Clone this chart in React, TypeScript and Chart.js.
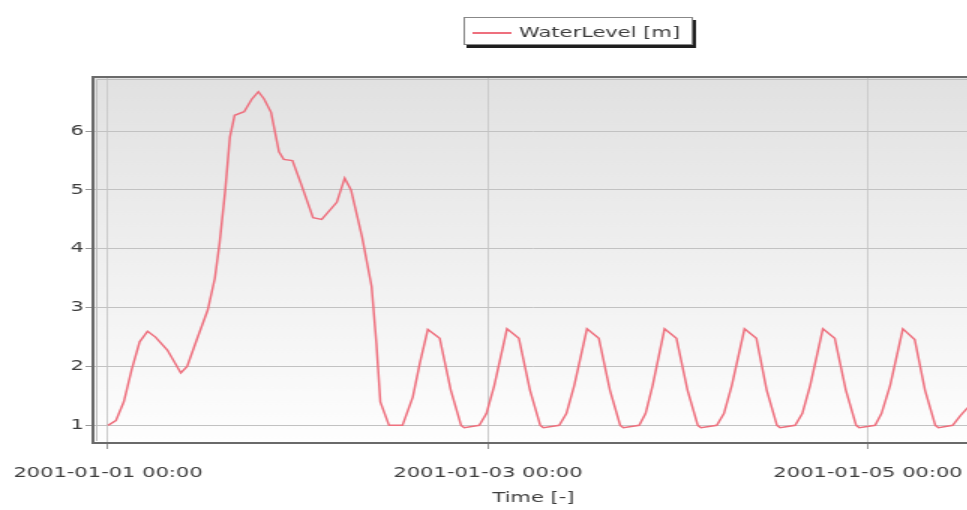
import React, { useEffect, useRef } from "react";
import { Chart, registerables } from "chart.js";

Chart.register(...registerables);

// Time in hours since 2001-01-01 00:00
const hours = [
  0, 1, 2, 3, 4, 5, 6, 7.5, 9.2, 10, 11.2, 12.6, 13.5, 14.1, 14.8, 15.4, 16, 17.2, 18.2, 19, 19.7, 20.6,
  21.6, 22.2, 23.3, 24.4, 25.9, 27, 28.9, 29.9, 30.7, 32.1, 33.3, 33.9, 34.4, 35.5, 37.2, 38.5, 39.4,
  40.4, 41.9, 43.3, 44.6, 45.0, 46.9, 47.8, 48.8,
  50.4, 51.9, 53.3, 54.6, 55.0, 57.0, 57.9, 58.9,
  60.5, 62.0, 63.4, 64.7, 65.1, 67.1, 67.9, 68.8,
  70.3, 71.8, 73.2, 74.5, 74.9, 76.9, 77.8, 78.8,
  80.4, 81.9, 83.2, 84.5, 84.9, 86.8, 87.7, 88.7,
  90.3, 91.8, 93.2, 94.5, 94.9, 96.9, 97.7, 98.8,
  100.4, 101.9, 103.2, 104.5, 104.9, 106.7, 107.7, 108.6,
];

// WaterLevel [m]
const levels = [
  1.0, 1.08, 1.4, 1.95, 2.42, 2.6, 2.5, 2.28, 1.89, 2.0, 2.45, 2.96, 3.5, 4.1, 4.98, 5.9, 6.27, 6.33, 6.55, 6.67, 6.55, 6.32,
  5.65, 5.52, 5.5, 5.1, 4.53, 4.5, 4.79, 5.2, 5.0, 4.2, 3.36, 2.4, 1.4, 1.0, 1.0, 1.48, 2.06,
  2.63, 2.48, 1.6, 1.0, 0.96, 1.0, 1.2, 1.68,
  2.64, 2.48, 1.6, 1.0, 0.96, 1.0, 1.2, 1.68,
  2.64, 2.48, 1.6, 1.0, 0.96, 1.0, 1.2, 1.68,
  2.64, 2.48, 1.6, 1.0, 0.96, 1.0, 1.2, 1.68,
  2.64, 2.48, 1.6, 1.0, 0.96, 1.0, 1.2, 1.68,
  2.64, 2.48, 1.6, 1.0, 0.96, 1.0, 1.2, 1.68,
  2.64, 2.46, 1.6, 1.0, 0.96, 1.0, 1.17, 1.3,
];

const xTickHours = [0, 48, 96];
const xTickLabels = ["2001-01-01 00:00", "2001-01-03 00:00", "2001-01-05 00:00"];
const yTickValues = [1, 2, 3, 4, 5, 6];
const seriesLabel = "WaterLevel [m]";
const xTitle = "Time [-]";

const SX = 1.5; // horizontal stretch of the whole picture
const W = 650;
const H = 510;
const LINE_COLOR = "rgb(238,112,126)";
const TEXT_COLOR = "#3c3c3c";
const FONT = '"DejaVu Sans", sans-serif';

const bgPlugin = {
  id: "bgPlugin",
  beforeDraw(chart: any) {
    const { ctx, chartArea: a } = chart;
    const g = ctx.createLinearGradient(0, a.top, 0, a.bottom);
    g.addColorStop(0, "#e1e1e1");
    g.addColorStop(1, "#fefefe");
    ctx.save();
    ctx.fillStyle = g;
    ctx.fillRect(a.left, a.top, a.right - a.left, a.bottom - a.top);
    ctx.restore();
  },
  afterDatasetsDraw(chart: any) {
    const { ctx, chartArea: a } = chart;
    ctx.save();
    ctx.strokeStyle = "#bdbdbd";
    ctx.lineWidth = 1;
    ctx.beginPath();
    ctx.moveTo(a.left + 2.5, a.bottom - 2);
    ctx.lineTo(a.left + 2.5, a.top + 2.5);
    ctx.lineTo(a.right + 5, a.top + 2.5);
    ctx.stroke();
    ctx.strokeStyle = "#6a6a6a";
    ctx.lineWidth = 2;
    ctx.strokeRect(a.left, a.top, a.right - a.left + 10, a.bottom - a.top);
    ctx.restore();
  },
  afterDraw(chart: any) {
    const { ctx } = chart;
    const bx = 309, by = 17, bw = 153, bh = 28;
    ctx.save();
    ctx.fillStyle = "#1e1e1e";
    ctx.fillRect(bx + 2, by + 3, bw, bh);
    ctx.fillStyle = "#ffffff";
    ctx.fillRect(bx, by, bw, bh);
    ctx.strokeStyle = "#888";
    ctx.lineWidth = 1;
    ctx.strokeRect(bx + 0.5, by + 0.5, bw - 1, bh - 1);
    const ly = 33;
    ctx.strokeStyle = LINE_COLOR;
    ctx.lineWidth = 2;
    ctx.beginPath();
    ctx.moveTo(315, ly);
    ctx.lineTo(341, ly);
    ctx.stroke();
    ctx.fillStyle = TEXT_COLOR;
    ctx.font = `14px ${FONT}`;
    ctx.textBaseline = "middle";
    ctx.textAlign = "left";
    ctx.fillText(seriesLabel, 346, ly);
    ctx.restore();
  },
};

export default function App() {
  const ref = useRef<HTMLCanvasElement>(null);

  useEffect(() => {
    const pxPerHour = 7.927 / SX;
    const left = 62;
    const xMin = -15 / 7.927;
    const xMax = xMin + (W - left) / pxPerHour;

    const chart = new Chart(ref.current as HTMLCanvasElement, {
      type: "line",
      data: {
        datasets: [
          {
            label: seriesLabel,
            data: hours.map((h, i) => ({ x: h, y: levels[i] })),
            borderColor: LINE_COLOR,
            borderWidth: 1.5,
            pointRadius: 0,
            tension: 0,
            fill: false,
          },
        ],
      },
      options: {
        animation: false,
        responsive: true,
        maintainAspectRatio: false,
        devicePixelRatio: 1,
        layout: { padding: { left: 0, top: 77, right: 0, bottom: 0 } },
        plugins: { legend: { display: false }, tooltip: { enabled: false } },
        scales: {
          x: {
            type: "linear",
            min: xMin,
            max: xMax,
            afterFit: (s: any) => {
              s.height = H - 443;
              s.paddingLeft = 0;
              s.paddingRight = 0;
            },
            afterBuildTicks: (s: any) => {
              s.ticks = xTickHours.map((v) => ({ value: v }));
            },
            ticks: {
              autoSkip: false,
              maxRotation: 0,
              padding: 16,
              color: TEXT_COLOR,
              font: { family: FONT, size: 14 },
              callback: (v: any) => {
                const i = xTickHours.indexOf(Number(v));
                return i >= 0 ? xTickLabels[i] : "";
              },
            },
            grid: { color: "#cccccc", lineWidth: 1, tickLength: 6, tickColor: "#999" },
            border: { display: false },
            title: {
              display: true,
              text: xTitle,
              color: TEXT_COLOR,
              font: { family: FONT, size: 14 },
              padding: { top: 0, bottom: 3 },
            },
          },
          y: {
            type: "linear",
            min: 0.7,
            max: 6.92,
            afterFit: (s: any) => {
              s.width = left;
              s.paddingTop = 0;
              s.paddingBottom = 0;
            },
            afterBuildTicks: (s: any) => {
              s.ticks = yTickValues.map((v) => ({ value: v }));
            },
            ticks: {
              padding: 1,
              color: TEXT_COLOR,
              font: { family: FONT, size: 14 },
            },
            grid: { color: "#c2c2c2", lineWidth: 1, tickLength: 5, tickColor: "#999" },
            border: { display: false },
          },
        },
      },
      plugins: [bgPlugin],
    } as any);
    return () => chart.destroy();
  }, []);

  return (
    <div
      style={{
        position: "fixed",
        left: 0,
        top: 0,
        width: 967,
        height: 510,
        overflow: "hidden",
        background: "#fff",
      }}
    >
      <div
        style={{
          position: "relative",
          width: W,
          height: H,
          transform: `scaleX(${SX})`,
          transformOrigin: "0 0",
        }}
      >
        <canvas ref={ref} />
      </div>
    </div>
  );
}
